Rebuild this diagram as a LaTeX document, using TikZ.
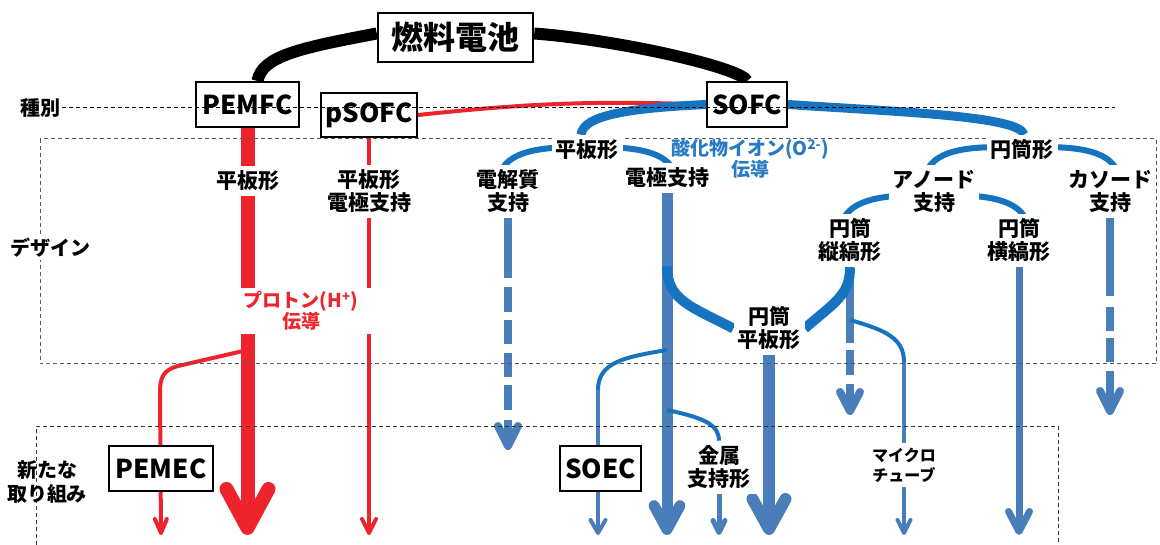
\documentclass[tikz,border=0pt]{standalone}
\usepackage{fontspec}
\setmainfont{Noto Sans CJK JP}
\usetikzlibrary{arrows.meta}
\definecolor{fcred}{RGB}{237,36,44}
\definecolor{bline}{RGB}{74,126,187}
\definecolor{bcurve}{RGB}{22,115,192}
\definecolor{btext}{RGB}{40,122,196}
\definecolor{dgray}{RGB}{90,90,90}
\pgfdeclarelayer{bg}
\pgfdeclarelayer{mid}
\pgfdeclarelayer{fg}
\pgfsetlayers{bg,mid,main,fg}
\tikzset{
  box/.style={draw, line width=2pt, fill=white, inner sep=0pt,
    font=\bfseries\fontsize{26}{28}\selectfont},
  lab/.style={fill=white, align=center, inner xsep=4pt, inner ysep=5pt,
    font=\bfseries\fontsize{21}{23}\selectfont},
  small/.style={fill=white, align=center, inner sep=3pt,
    font=\bfseries\fontsize{19}{21}\selectfont},
  side/.style={align=center, inner sep=2pt,
    font=\bfseries\fontsize{20}{24}\selectfont},
  arr/.style 2 args={-{Straight Barb[length=#1,width=#2,round]}},
  rline/.style={draw=fcred, line cap=butt},
  bvert/.style={draw=bline, line cap=butt},
  bcurv/.style={draw=bcurve, line cap=butt},
  arc/.style={draw=bcurve, line width=6pt},
  zone/.style={draw=dgray, line width=1pt, dash pattern=on 4pt off 3pt},
}
\begin{document}
\begin{tikzpicture}[x=1pt,y=1pt]
\useasboundingbox (0,0) rectangle (1160,-545);

% ---------- nodes ----------
\node[box, minimum width=155pt, minimum height=49pt, line width=2.5pt,
  font=\bfseries\fontsize{32}{34}\selectfont] (fc) at (455.5,-37.5) {燃料電池};
\node[box, minimum width=103pt, minimum height=45pt] (pemfc) at (247.5,-104.5) {PEMFC};
\node[box, minimum width=96pt, minimum height=44pt] (psofc) at (369,-115) {pSOFC};
\node[box, minimum width=80pt, minimum height=45pt] (sofc) at (747,-104.5) {SOFC};
\node[box, minimum width=104pt, minimum height=45pt] (pemec) at (161,-468.5) {PEMEC};
\node[box, minimum width=81pt, minimum height=45pt] (soec) at (600.5,-468.5) {SOEC};

\node[lab] (pflat) at (247.5,-181) {平板形};
\node[lab] (pelec) at (369,-191.5) {平板形\\電極支持};
\node[small, text=fcred, minimum width=142pt] (proton) at (301,-311) {プロトン(H\textsuperscript{+})\\伝導};
\node[lab] (sflat) at (587,-150) {平板形};
\node[small, text=btext, fill=none] (oxide) at (750,-159) {酸化物イオン(O\textsuperscript{2-})\\伝導};
\node[lab] (eledsup) at (508,-191.5) {電解質\\支持};
\node[lab] (elecsup) at (667,-178) {電極支持};
\node[lab] (tube) at (1022,-150) {円筒形};
\node[lab] (anode) at (934,-191.5) {アノード\\支持};
\node[lab] (cathode) at (1110,-191.5) {カソード\\支持};
\node[lab] (vstripe) at (850,-240.5) {円筒\\縦縞形};
\node[lab] (hstripe) at (1019,-240.5) {円筒\\横縞形};
\node[lab] (tflat) at (769,-328.5) {円筒\\平板形};
\node[lab] (metal) at (719,-467.5) {金属\\支持形};
\node[lab, font=\bfseries\fontsize{16}{20}\selectfont] (micro) at (904,-465) {マイクロ\\チューブ};

\node[side] (kind) at (40,-108) {種別};
\node[side, fill=white] (design) at (50,-248) {デザイン};
\node[side] (newt) at (47,-482) {新たな\\取り組み};

% ---------- coordinates ----------
\coordinate (bottom) at (0,-535);
\coordinate (lowA) at (0,-450);
\coordinate (lowB) at (0,-415);
\coordinate (pb) at (247.5,-350);
\coordinate (js) at (667,-350);
\coordinate (j1) at (667,-266);
\coordinate (jmet) at (667,-410);
\coordinate (jm) at (850,-320);
\coordinate (kindEnd) at (1115,-108);

% ---------- connectors ----------
\begin{pgfonlayer}{bg}
  % black
  \draw[line width=12pt] ([yshift=4pt]fc.west) .. controls (300,-48) and (262,-56) .. ([xshift=10pt]pemfc.north);
  \draw[line width=12pt] ([yshift=4pt]fc.east) .. controls (620,-40) and (742,-68) .. (sofc.north);
  % SOFC children
  \draw[rline, line width=4pt] (psofc.east) to[bend left=4] (sofc.west);
  \draw[bcurv, line width=9pt] (sofc.west) .. controls (630,-108) and (583,-115) .. ([xshift=-6pt]sflat.north);
  \draw[bcurv, line width=9pt] (sofc.east) .. controls (900,-112) and (1020,-116) .. ([xshift=2pt]tube.north);
  % arcs
  \draw[arc] ([yshift=3pt]sflat.center) to[out=180,in=90] ([xshift=-10pt,yshift=6.5pt]eledsup.center);
  \draw[arc] ([yshift=3pt]sflat.center) to[out=0,in=90] ([xshift=10pt,yshift=-7pt]elecsup.center);
  \draw[arc] ([yshift=3pt]tube.center) to[out=180,in=90] ([xshift=-10pt,yshift=6.5pt]anode.center);
  \draw[arc] ([yshift=3pt]tube.center) to[out=0,in=90] ([xshift=10pt,yshift=6.5pt]cathode.center);
  \draw[arc] ([yshift=-3.5pt]anode.center) to[out=180,in=90] ([xshift=-10pt,yshift=6.5pt]vstripe.center);
  \draw[arc] ([yshift=-3.5pt]anode.center) to[out=0,in=90] ([xshift=10pt,yshift=6.5pt]hstripe.center);

  % red verticals
  \draw[rline, line width=14pt, arr={39pt}{42pt}] (pemfc.south) -- (pemfc.south |- bottom);
  \draw[rline, line width=4pt, arr={14pt}{14pt}] (psofc.south) -- (psofc.south |- bottom);
  \draw[rline, line width=4pt, arr={14pt}{12pt}] (pb) -- (178,-366) .. controls (163,-370) and (160,-378) .. (160,-392) -- (pemec.center |- bottom);

  % blue verticals
  \draw[bvert, line width=8pt, arr={20pt}{20pt},
    dash pattern=on 59.5pt off 9pt on 25pt off 8pt on 24pt off 9pt on 24pt off 8pt on 25pt off 10pt]
    (eledsup.south) -- (eledsup.south |- lowA);
  \draw[bvert, line width=11pt, arr={24pt}{26pt}] (elecsup.south) -- (elecsup.south |- bottom);
  \draw[bvert, line width=12pt, arr={30pt}{33pt}] (tflat.south) -- (tflat.south |- bottom);
  \draw[bvert, line width=8pt, arr={19pt}{20pt},
    dash pattern=on 76pt off 7pt on 25pt off 9pt]
    (vstripe.south) -- (vstripe.south |- lowB);
  \draw[bvert, line width=7pt, arr={20pt}{21pt}] (hstripe.south) -- (hstripe.south |- bottom);
  \draw[bvert, line width=8pt, arr={20pt}{20pt},
    dash pattern=on 78.5pt off 11pt on 24pt off 7pt on 24pt off 9pt]
    (cathode.south) -- (cathode.south |- lowB);

  % blue branches
  \draw[bcurv, line width=4pt] (js) .. controls (625,-357) and (598,-362) .. (598,-390) coordinate (sv);
  \draw[bvert, line width=4pt, arr={13pt}{15pt}] (sv) -- (sv |- bottom);
  \draw[bcurv, line width=4pt] (jmet) .. controls (705,-418) and (719,-425) .. (metal.north);
  \draw[bvert, line width=5pt, arr={12pt}{12pt}] (metal.south) -- (metal.south |- bottom);
  \draw[bcurv, line width=4pt] (jm) .. controls (885,-330) and (904,-338) .. (904,-362) coordinate (mv);
  \draw[bvert, line width=4pt, arr={13pt}{13pt}] (mv) -- (mv |- bottom);

  % thick curves into 円筒平板形
  \draw[bcurv, line width=10pt] (j1) .. controls (667,-300) and (690,-306) .. (tflat.west);
  \draw[bcurv, line width=10pt] (vstripe.south) .. controls (850,-295) and (835,-302) .. (tflat.east);
\end{pgfonlayer}

% ---------- zones ----------
\begin{pgfonlayer}{mid}
  \draw[zone] (40,-139) rectangle (1156,-364);
  \draw[zone, draw=black!80] (36,-545) -- (36,-426) -- (1058,-426) -- (1058,-545);
\end{pgfonlayer}

\begin{pgfonlayer}{fg}
  \draw[line width=1pt, dash pattern=on 4pt off 3pt] (kind.east) -- (kindEnd);
\end{pgfonlayer}
\end{tikzpicture}
\end{document}
